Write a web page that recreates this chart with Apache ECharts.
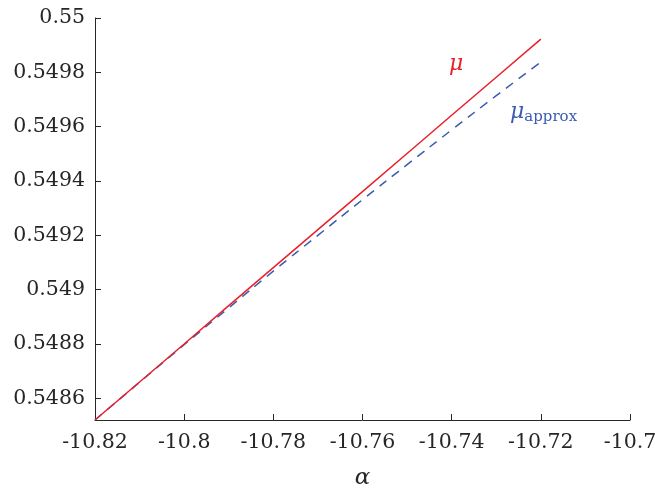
<!DOCTYPE html>
<html>
<head>
<meta charset="utf-8">
<script src="https://cdn.jsdelivr.net/npm/echarts@6/dist/echarts.min.js"></script>
<style>html,body{margin:0;padding:0;background:#fff;}#c{width:655px;height:489px;}</style>
</head>
<body>
<div id="c"></div>
<script>
const alpha = [-10.82, -10.81, -10.80, -10.79, -10.78, -10.77, -10.76, -10.75, -10.74, -10.73, -10.72];
const mu = [0.548520, 0.548660, 0.548800, 0.548941, 0.549081, 0.549221, 0.549361, 0.549501, 0.549642, 0.549782, 0.549922];
const muApprox = [0.548520, 0.548659, 0.548797, 0.548933, 0.549068, 0.549200, 0.549331, 0.549460, 0.549588, 0.549714, 0.549838];
const yTicks = [0.5486, 0.5488, 0.5490, 0.5492, 0.5494, 0.5496, 0.5498, 0.5500];

const FONT = 'DejaVu Serif';
const AX = '#262626';
const RED = '#e8202a';
const BLUE = '#3a5bb0';

const chart = echarts.init(document.getElementById('c'));
chart.setOption({
  animation: false,
  backgroundColor: '#fff',
  grid: { left: 95, right: 25, top: 18, bottom: 69, outerBoundsMode: 'none', containLabel: false },
  xAxis: {
    type: 'value', min: -10.82, max: -10.70, interval: 0.02,
    name: 'α', nameLocation: 'middle', nameGap: 47,
    nameTextStyle: { fontFamily: FONT, fontStyle: 'italic', fontSize: 23, color: AX },
    axisLine: { show: true, lineStyle: { color: AX, width: 1 } },
    axisTick: { show: true, inside: true, length: 6, lineStyle: { color: AX } },
    axisLabel: { fontFamily: FONT, fontSize: 20.5, color: AX, margin: 12 },
    splitLine: { show: false }
  },
  yAxis: {
    type: 'value', min: 0.54852, max: 0.55,
    axisLine: { show: true, lineStyle: { color: AX, width: 1 } },
    axisTick: { show: true, inside: true, length: 6, lineStyle: { color: AX }, customValues: yTicks },
    axisLabel: { fontFamily: FONT, fontSize: 20.5, color: AX, margin: 10, customValues: yTicks },
    splitLine: { show: false }
  },
  series: [
    {
      type: 'line', data: alpha.map((a, i) => [a, mu[i]]), symbol: 'none',
      lineStyle: { color: RED, width: 1.5 }, z: 3
    },
    {
      type: 'line', data: alpha.map((a, i) => [a, muApprox[i]]), symbol: 'none', smooth: true,
      lineStyle: { color: BLUE, width: 1.5, type: [9, 7] }, z: 2
    }
  ],
  graphic: [
    { type: 'text', left: 449, top: 53, style: { text: 'μ', fontFamily: FONT, fontStyle: 'italic', fontSize: 22, fill: RED } },
    { type: 'text', left: 510, top: 101, style: {
        text: '{m|μ}{s|approx}',
        rich: {
          m: { fontFamily: FONT, fontStyle: 'italic', fontSize: 22, fill: BLUE, color: BLUE },
          s: { fontFamily: FONT, fontSize: 15, fill: BLUE, color: BLUE, padding: [10, 0, 0, 0] }
        }
      } }
  ]
});
</script>
</body>
</html>
